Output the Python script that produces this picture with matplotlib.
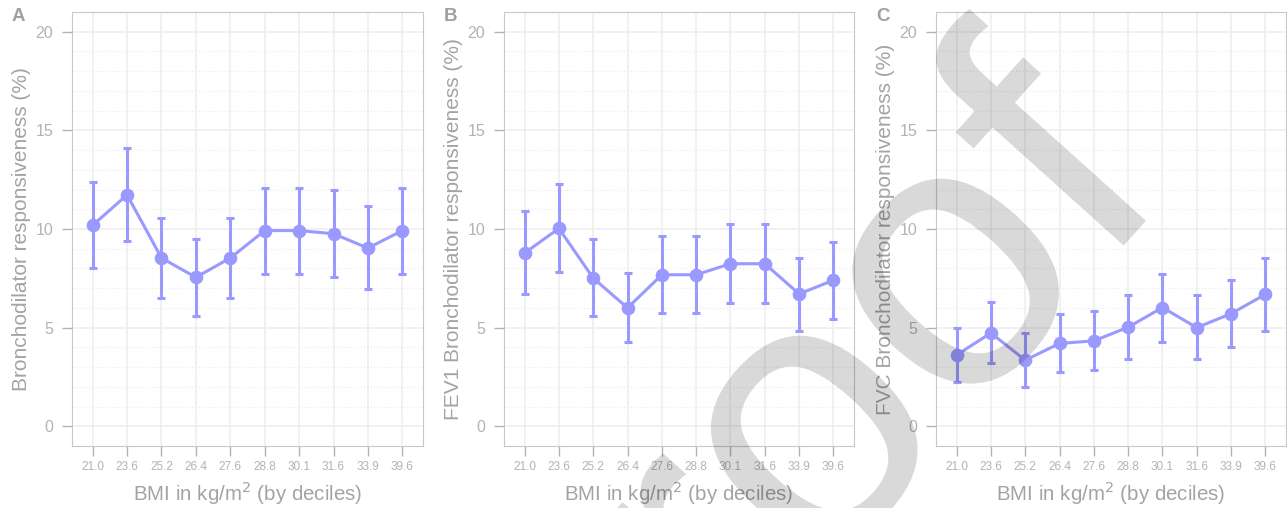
import matplotlib.pyplot as plt
from matplotlib.ticker import MultipleLocator
from matplotlib.textpath import TextPath
from matplotlib.patches import PathPatch
from matplotlib.font_manager import FontProperties
from matplotlib.transforms import Affine2D, IdentityTransform

plt.rcParams['font.family'] = ['Liberation Sans', 'DejaVu Sans']

# BMI deciles (x categories)
bmi_labels = ['21.0', '23.6', '25.2', '26.4', '27.6', '28.8', '30.1', '31.6', '33.9', '39.6']

# Panel A: bronchodilator responsiveness (%)
a_mean = [10.19, 11.73, 8.53, 7.55, 8.53, 9.92, 9.92, 9.76, 9.03, 9.92]
a_low = [8.00, 9.38, 6.49, 5.61, 6.49, 7.72, 7.72, 7.58, 6.98, 7.72]
a_high = [12.40, 14.10, 10.56, 9.49, 10.56, 12.10, 12.10, 11.96, 11.17, 12.10]

# Panel B: FEV1 bronchodilator responsiveness (%)
b_mean = [8.78, 10.03, 7.51, 6.00, 7.68, 7.68, 8.24, 8.24, 6.71, 7.40]
b_low = [6.72, 7.83, 5.61, 4.28, 5.75, 5.75, 6.23, 6.23, 4.85, 5.46]
b_high = [10.90, 12.30, 9.50, 7.75, 9.64, 9.64, 10.26, 10.26, 8.54, 9.32]

# Panel C: FVC bronchodilator responsiveness (%)
c_mean = [3.61, 4.73, 3.35, 4.20, 4.33, 5.02, 6.02, 5.00, 5.71, 6.69]
c_low = [2.24, 3.20, 2.00, 2.73, 2.85, 3.42, 4.28, 3.42, 4.03, 4.85]
c_high = [4.99, 6.32, 4.72, 5.68, 5.83, 6.64, 7.73, 6.64, 7.43, 8.54]

panels = [
    ('A', 'Bronchodilator responsiveness (%)', a_mean, a_low, a_high),
    ('B', 'FEV1 Bronchodilator responsiveness (%)', b_mean, b_low, b_high),
    ('C', 'FVC Bronchodilator responsiveness (%)', c_mean, c_low, c_high),
]

line_col = '#9999ff'
text_col = '#a3a3a3'
tick_col = '#b3b3b3'
W, H = 1287, 508
fig = plt.figure(figsize=(W / 100, H / 100), dpi=100)

# axes boxes in pixels: left, right
boxes = [(72, 423), (504, 854), (936, 1286)]
top_px, bot_px = 12, 446

for (lab, ylabel, mean, low, high), (l, r) in zip(panels, boxes):
    ax = fig.add_axes([l / W, 1 - bot_px / H, (r - l) / W, (bot_px - top_px) / H])
    x = list(range(1, len(bmi_labels) + 1))
    yerr = [[m - lo for m, lo in zip(mean, low)], [hi - m for m, hi in zip(mean, high)]]
    ax.errorbar(x, mean, yerr=yerr, color=line_col, lw=2.2, marker='o', ms=8.8,
                elinewidth=2.2, capsize=2.6, capthick=2.2, zorder=3)
    ax.set_xlim(0.4, 10.6)
    ax.set_ylim(-1, 21)
    ax.set_xticks(x)
    ax.set_xticklabels(bmi_labels, fontsize=8.5, color=tick_col)
    ax.yaxis.set_major_locator(MultipleLocator(5))
    ax.yaxis.set_minor_locator(MultipleLocator(1))
    ax.tick_params(axis='y', labelsize=11.5, colors=tick_col, length=7.5, width=1, pad=6)
    ax.tick_params(axis='x', colors=tick_col, length=7.5, width=1, pad=3.5)
    ax.tick_params(axis='y', which='minor', length=0)
    ax.grid(True, which='major', color='#efefef', lw=1.2, zorder=0)
    ax.grid(True, which='minor', axis='y', color='#ececec', lw=0.9, ls=':', zorder=0)
    for side in ax.spines:
        ax.spines[side].set_color('#c8c8c8')
    ax.set_ylabel(ylabel, fontsize=15, color=text_col, va='center')
    ax.yaxis.set_label_coords(-0.145, 0.5)
    ax.set_xlabel(r'BMI in kg/m$^2$ (by deciles)', fontsize=14.8, color=text_col, va='center')
    ax.xaxis.set_label_coords(0.5, -0.108)
    ax.text(-0.171, 0.99, lab, transform=ax.transAxes, fontsize=13.5, fontweight='bold',
            color='#a0a0a0', ha='left', va='center')

# "Proof" watermark across the figure
em = 380
tp = TextPath((0, 0), 'Proof', size=1, prop=FontProperties(family='Liberation Sans'))
anchor = (1.834, 0.26)  # centre of the second 'o' in em units
wm = (Affine2D().translate(-anchor[0], -anchor[1]).scale(em).rotate_deg(48)
      .translate(957, H - 283))
fig.patches.append(PathPatch(tp, transform=wm + IdentityTransform(), facecolor='black',
                             edgecolor='none', alpha=0.15, zorder=10))

fig.savefig('out.png', dpi=100)
